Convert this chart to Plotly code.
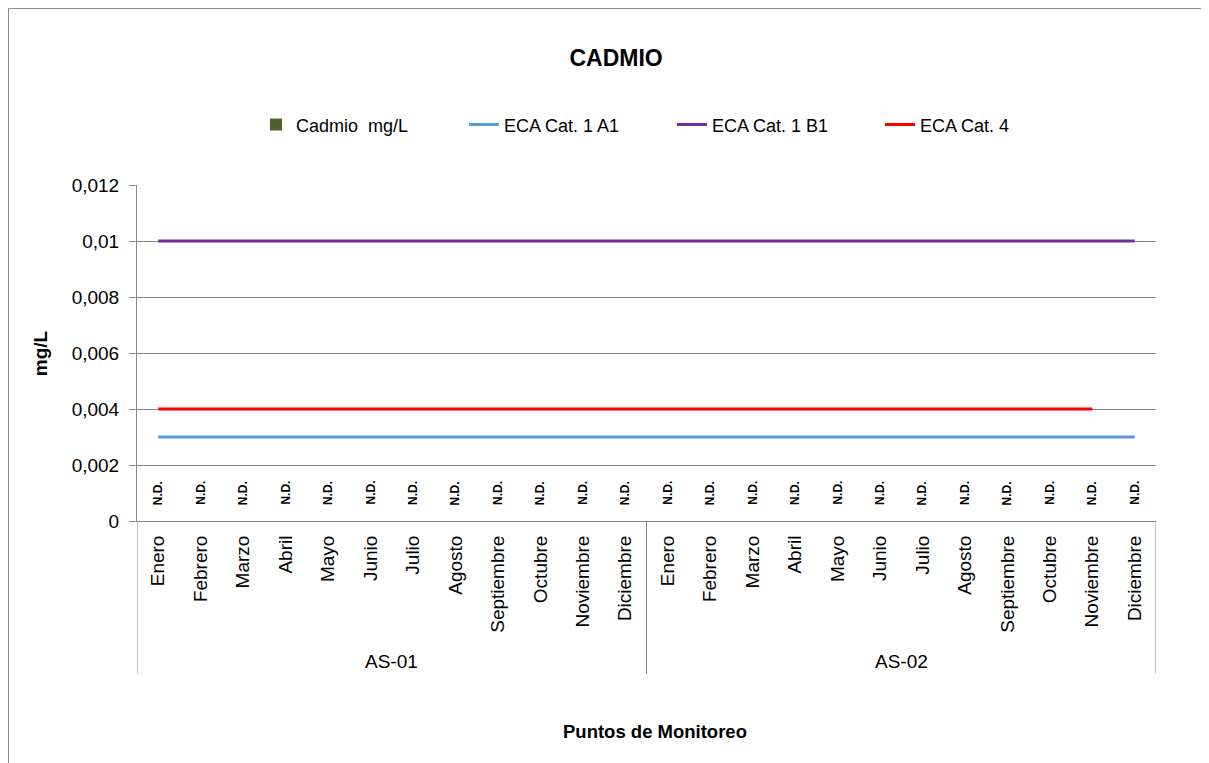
import plotly.graph_objects as go

# data
meses = ["Enero", "Febrero", "Marzo", "Abril", "Mayo", "Junio", "Julio", "Agosto",
         "Septiembre", "Octubre", "Noviembre", "Diciembre"]
puntos = ["AS-01", "AS-02"]
etiquetas_x = meses + meses
cadmio = [0, 0, 0, 0, 0, 0, 0, 0, 0, 0, 0, 0,
          0, 0, 0, 0, 0, 0, 0, 0, 0, 0, 0, 0]
cadmio_txt = ["N.D.", "N.D.", "N.D.", "N.D.", "N.D.", "N.D.", "N.D.", "N.D.", "N.D.", "N.D.", "N.D.", "N.D.",
              "N.D.", "N.D.", "N.D.", "N.D.", "N.D.", "N.D.", "N.D.", "N.D.", "N.D.", "N.D.", "N.D.", "N.D."]
eca_a1 = [0.003, 0.003, 0.003, 0.003, 0.003, 0.003, 0.003, 0.003, 0.003, 0.003, 0.003, 0.003,
          0.003, 0.003, 0.003, 0.003, 0.003, 0.003, 0.003, 0.003, 0.003, 0.003, 0.003, 0.003]
eca_b1 = [0.01, 0.01, 0.01, 0.01, 0.01, 0.01, 0.01, 0.01, 0.01, 0.01, 0.01, 0.01,
          0.01, 0.01, 0.01, 0.01, 0.01, 0.01, 0.01, 0.01, 0.01, 0.01, 0.01, 0.01]
eca_cat4 = [0.004, 0.004, 0.004, 0.004, 0.004, 0.004, 0.004, 0.004, 0.004, 0.004, 0.004, 0.004,
            0.004, 0.004, 0.004, 0.004, 0.004, 0.004, 0.004, 0.004, 0.004, 0.004, 0.004, None]
y_ticks = [0, 0.002, 0.004, 0.006, 0.008, 0.01, 0.012]
y_ticktext = ["0", "0,002", "0,004", "0,006", "0,008", "0,01", "0,012"]

FONT = "Liberation Sans, Arial, sans-serif"
GRIS = "#868686"
x = list(range(len(etiquetas_x)))

fig = go.Figure()
fig.add_trace(go.Bar(x=x, y=cadmio, name="Cadmio  mg/L",
                     marker=dict(color="#4F6228", line=dict(color="#2B3516", width=0))))
fig.add_trace(go.Scatter(x=x, y=eca_a1, name="ECA Cat. 1 A1", mode="lines",
                         line=dict(color="#5B9BD5", width=3)))
fig.add_trace(go.Scatter(x=x, y=eca_b1, name="ECA Cat. 1 B1", mode="lines",
                         line=dict(color="#7030A0", width=3)))
fig.add_trace(go.Scatter(x=x, y=eca_cat4, name="ECA Cat. 4", mode="lines",
                         line=dict(color="#FF0000", width=3)))

# N.D. labels over each (zero) bar
for xi, t in zip(x, cadmio_txt):
    fig.add_annotation(x=xi, y=0, text="<b>" + t + "</b>", textangle=-90, showarrow=False,
                       yshift=28, font=dict(size=12, color="black", family=FONT))

# group labels and dividers of the two-level category axis
n = len(meses)
for i, p in enumerate(puntos):
    fig.add_annotation(x=i * n + (n - 1) / 2, y=-0.417, yref="paper", yanchor="middle", text=p,
                       showarrow=False, font=dict(size=19, color="black", family=FONT))
for xb in [-0.5, n - 0.5, 2 * n - 0.5]:
    fig.add_shape(type="line", xref="x", yref="paper", x0=xb, x1=xb, y0=0, y1=-0.455,
                  line=dict(color=GRIS, width=1))

# chart frame
fig.add_shape(type="rect", xref="paper", yref="paper", x0=-0.1261, x1=1.1, y0=-0.8, y1=1.525,
              line=dict(color=GRIS, width=1))

fig.add_annotation(x=-0.095, y=0.5, xref="paper", yref="paper", xanchor="center", yanchor="middle",
                   text="<b>mg/L</b>", textangle=-90, showarrow=False,
                   font=dict(size=19, color="black", family=FONT))
fig.add_annotation(x=0.508, y=-0.625, xref="paper", yref="paper", xanchor="center", yanchor="middle",
                   text="<b>Puntos de Monitoreo</b>", showarrow=False,
                   font=dict(size=18.5, color="black", family=FONT))

fig.update_layout(
    width=1209, height=763,
    margin=dict(l=129, r=61, t=177, b=250),
    paper_bgcolor="white", plot_bgcolor="white",
    font=dict(family=FONT, color="black", size=19),
    title=dict(text="<b>CADMIO</b>", x=0.503, xref="container", y=1 - 50 / 763, yanchor="middle",
               xanchor="center", font=dict(size=23, family=FONT, color="black")),
    legend=dict(orientation="h", x=0.525, xanchor="center", y=1.179, yanchor="middle",
                font=dict(size=18, family=FONT), entrywidth=163, entrywidthmode="pixels",
                bgcolor="rgba(0,0,0,0)"),
    bargap=0.3,
    showlegend=True,
)
fig.update_xaxes(range=[-0.5, 2 * n - 0.5], tickvals=x, ticktext=etiquetas_x, tickangle=-90,
                 showgrid=False, showline=True, linecolor=GRIS, ticks="", ticklabelstandoff=6,
                 tickfont=dict(size=19, family=FONT), zeroline=False)
fig.update_yaxes(range=[0, 0.012], tickvals=y_ticks, ticktext=y_ticktext, showgrid=True,
                 gridcolor=GRIS, gridwidth=1, showline=True, linecolor=GRIS, ticks="outside",
                 ticklen=7, tickcolor=GRIS, ticklabelstandoff=6,
                 tickfont=dict(size=19, family=FONT), zeroline=False)

fig.write_html("out.html")
